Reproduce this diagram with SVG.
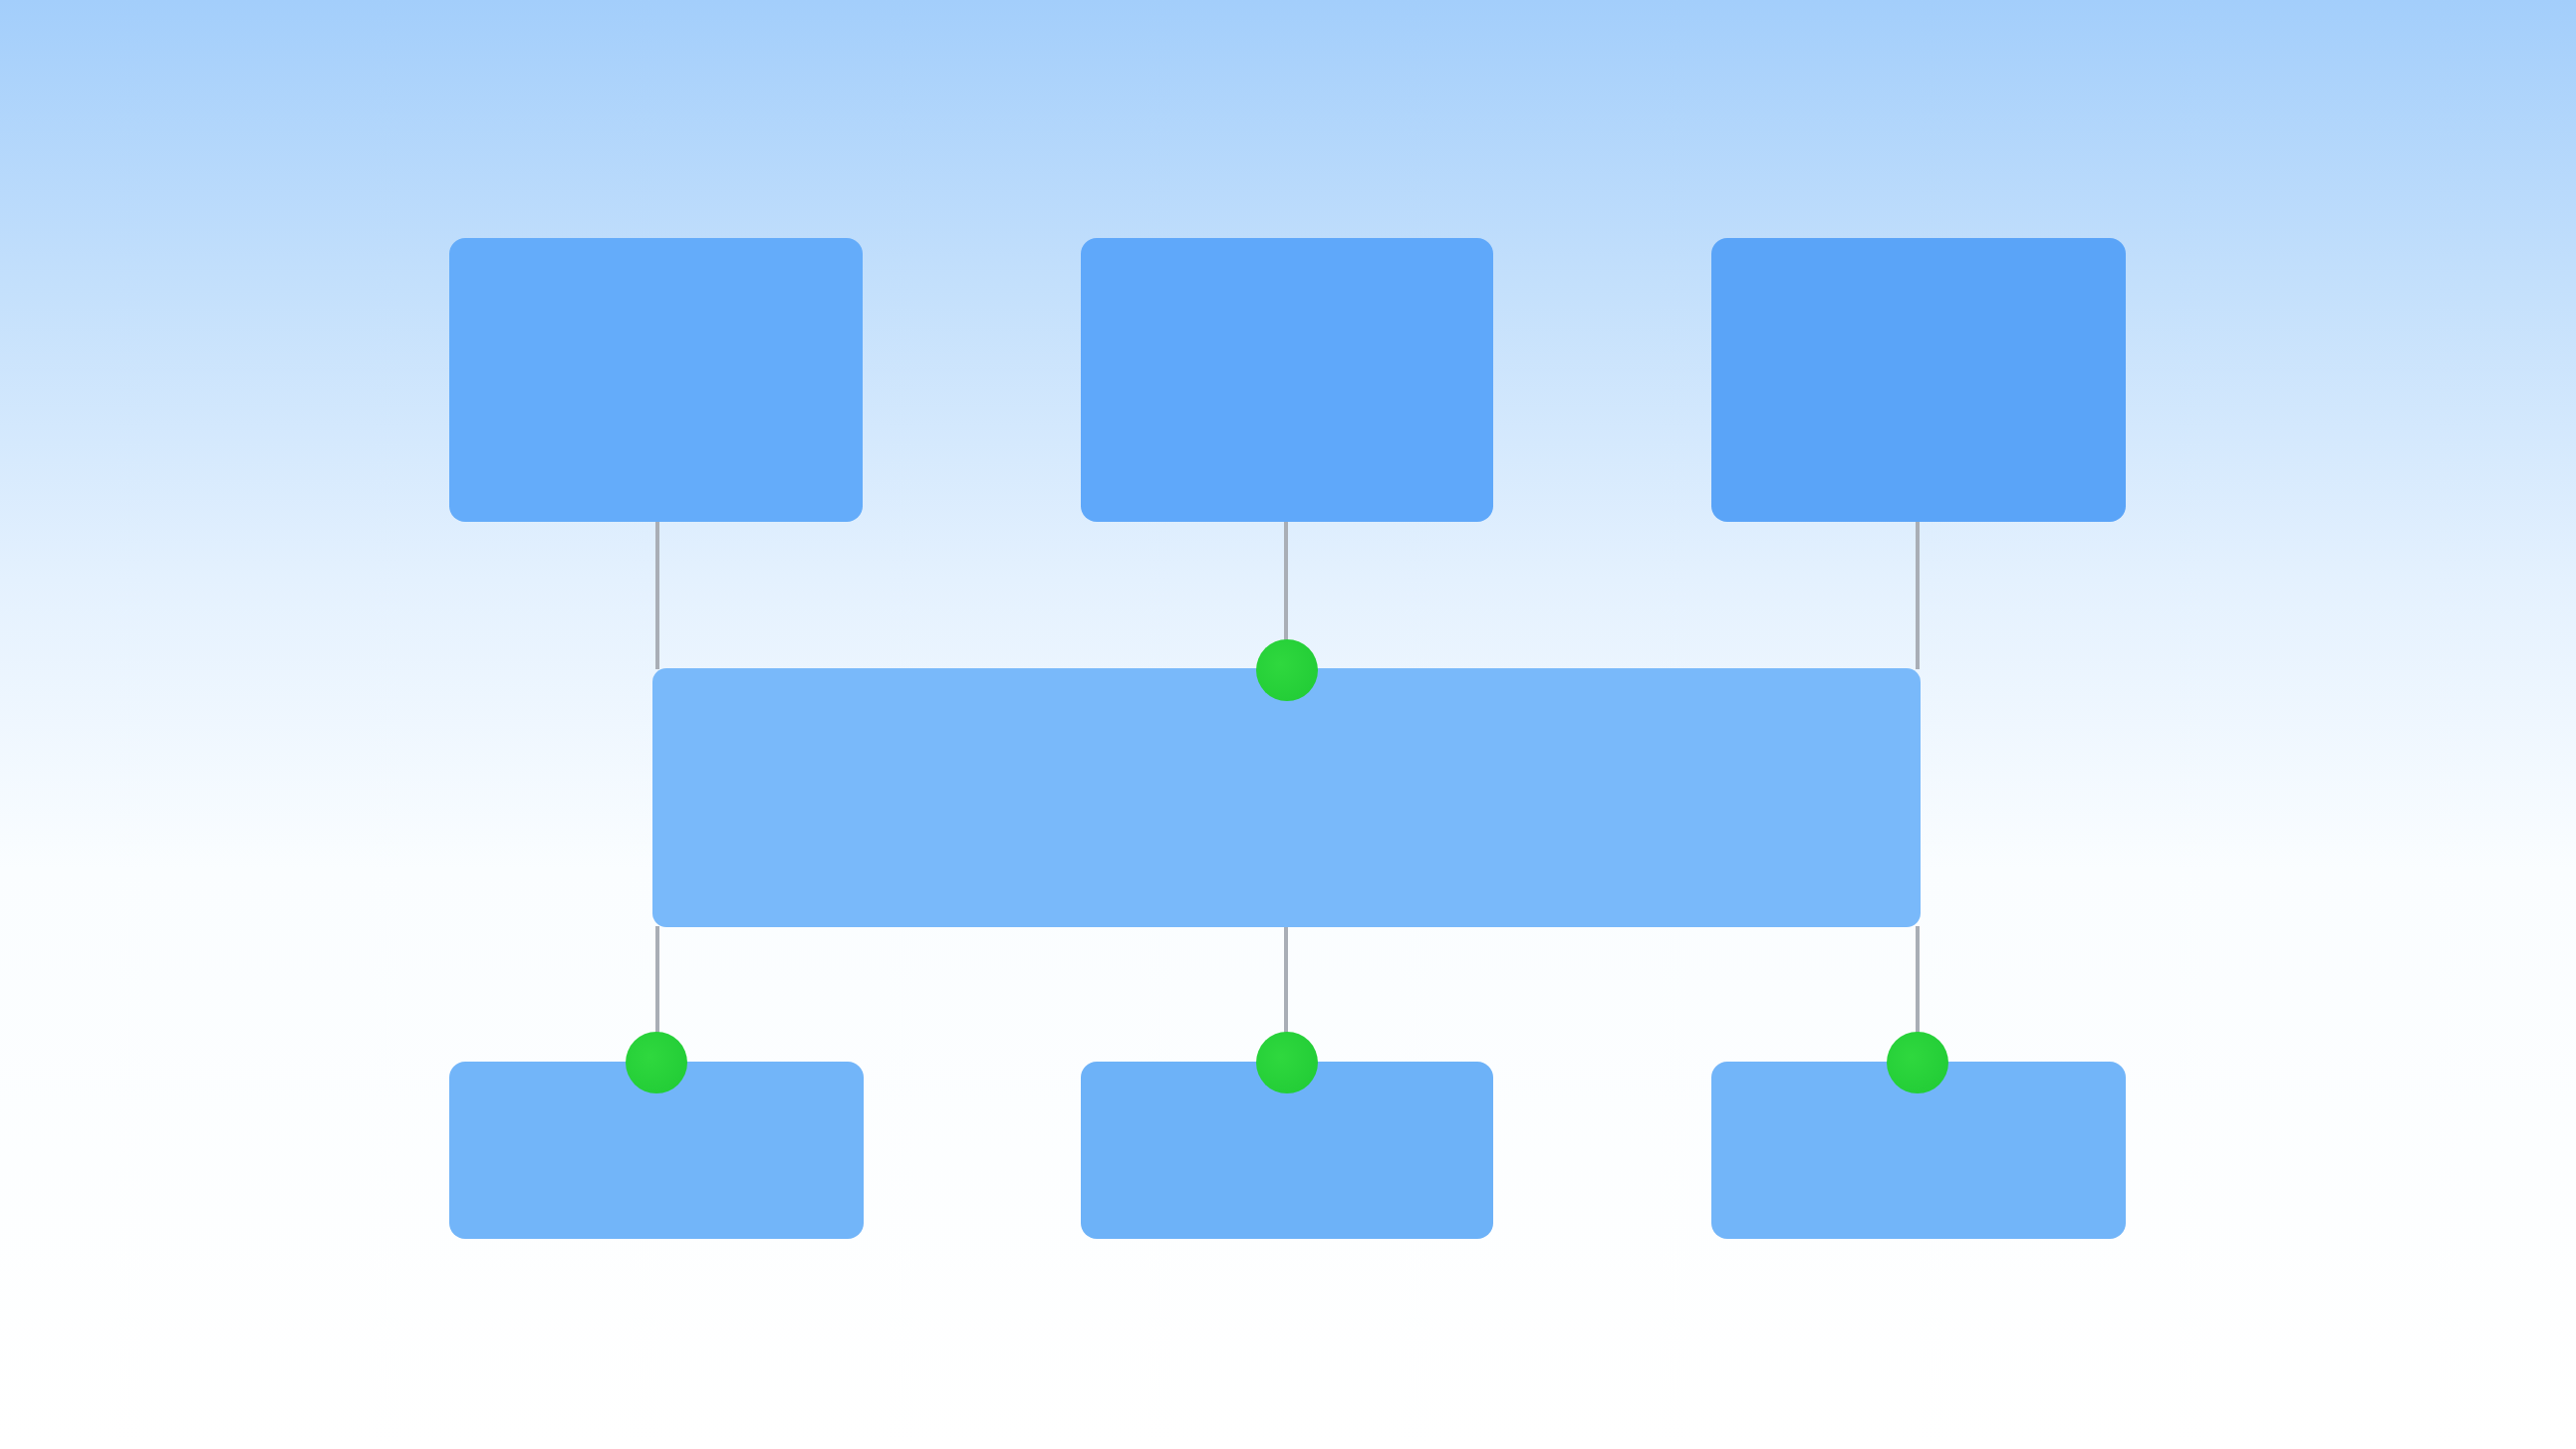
<svg xmlns="http://www.w3.org/2000/svg" width="2586" height="1455" viewBox="0 0 2586 1455">
<defs>
<linearGradient id="bg" x1="0" y1="0" x2="0" y2="1">
<stop offset="0" stop-color="#a3cefb"/>
<stop offset="0.2" stop-color="#c4e0fc"/>
<stop offset="0.4" stop-color="#e4f1fe"/>
<stop offset="0.6" stop-color="#fafdff"/>
<stop offset="1" stop-color="#ffffff"/>
</linearGradient>
<radialGradient id="dot" cx="0.4" cy="0.4" r="0.7">
<stop offset="0" stop-color="#2fd83e"/>
<stop offset="1" stop-color="#22cc36"/>
</radialGradient>
</defs>
<style>
.top{fill:#64acfa}
.mid{fill:#79b9fa}
.bot{fill:#72b5f9}
.conn{stroke:#a9aeb6;stroke-width:4;fill:none}
.dot{fill:url(#dot)}
</style>
<rect x="0" y="0" width="2586" height="1455" fill="url(#bg)"/>
<g id="connectors">
<line class="conn" x1="660" y1="524" x2="660" y2="672"/>
<line class="conn" x1="1291" y1="524" x2="1291" y2="672"/>
<line class="conn" x1="1925" y1="524" x2="1925" y2="672"/>
<line class="conn" x1="660" y1="930" x2="660" y2="1066"/>
<line class="conn" x1="1291" y1="930" x2="1291" y2="1066"/>
<line class="conn" x1="1925" y1="930" x2="1925" y2="1066"/>
</g>
<g id="top1"><rect class="top" x="451" y="239" width="415" height="285" rx="16"/></g>
<g id="top2"><rect class="top" x="1085" y="239" width="414" height="285" rx="16" style="fill:#5fa8fa"/></g>
<g id="top3"><rect class="top" x="1718" y="239" width="416" height="285" rx="16" style="fill:#5aa4f8"/></g>
<g id="middle"><rect class="mid" x="655" y="671" width="1273" height="260" rx="14"/></g>
<g id="bot1"><rect class="bot" x="451" y="1066" width="416" height="178" rx="16"/></g>
<g id="bot2"><rect class="bot" x="1085" y="1066" width="414" height="178" rx="16" style="fill:#6db2f8"/></g>
<g id="bot3"><rect class="bot" x="1718" y="1066" width="416" height="178" rx="16"/></g>
<g id="dots">
<circle class="dot" cx="1292" cy="673" r="31"/>
<circle class="dot" cx="659" cy="1067" r="31"/>
<circle class="dot" cx="1292" cy="1067" r="31"/>
<circle class="dot" cx="1925" cy="1067" r="31"/>
</g>
</svg>
